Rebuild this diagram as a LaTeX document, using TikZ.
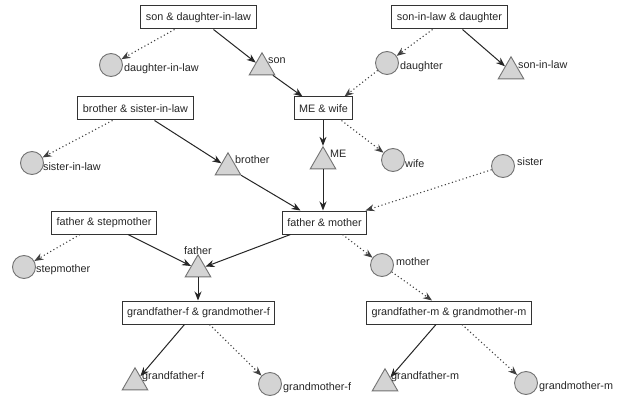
\documentclass[tikz,border=0pt]{standalone}
\usepackage{fontspec}
\setmainfont{Liberation Sans}
\usetikzlibrary{shapes.geometric,arrows.meta}
\begin{document}
\begin{tikzpicture}[x=1pt,y=-1pt,
 font=\fontsize{10.8}{12}\selectfont,
 box/.style={draw=black!80,line width=1pt,fill=white,minimum height=23pt,inner xsep=5pt,inner ysep=0pt,text=black!85},
 fem/.style={circle,draw=black!55,line width=0.9pt,fill=black!17,minimum size=23pt,inner sep=0pt},
 mal/.style={regular polygon,regular polygon sides=3,draw=black!55,line width=0.9pt,fill=black!17,minimum size=29.5pt,inner sep=0pt},
 lab/.style={anchor=west,inner sep=0pt,text=black!85},
 sol/.style={draw=black!85,line width=1pt,-{Stealth[length=9pt,width=7pt]}},
 dot/.style={draw=black!75,line width=1.1pt,dash pattern=on 1.1pt off 2.6pt,-{Stealth[length=9pt,width=7pt]}},
]
\fill[white] (0,0) rectangle (620,398);
\useasboundingbox (0,0) rectangle (620,398);
% boxes
\node[box] (sdl) at (198.5,17.5) {son \& daughter-in-law};
\node[box] (sild) at (449.5,17.5) {son-in-law \& daughter};
\node[box] (bsil) at (135.5,108.5) {brother \& sister-in-law};
\node[box] (mew) at (323.5,108.5) {ME \& wife};
\node[box] (fsm) at (104,222.5) {father \& stepmother};
\node[box] (fm) at (324.5,222.5) {father \& mother};
\node[box] (gff) at (198.5,312.5) {grandfather-f \& grandmother-f};
\node[box] (gfm) at (449,312.5) {grandfather-m \& grandmother-m};
% females
\node[fem] (dil) at (111,65) {};
\node[fem] (dau) at (387,63) {};
\node[fem] (sil) at (32,163) {};
\node[fem] (wife) at (393,160) {};
\node[fem] (sis) at (503,166) {};
\node[fem] (stm) at (24,267) {};
\node[fem] (mot) at (382,265) {};
\node[fem] (gmf) at (270,384) {};
\node[fem] (gmm) at (526,383) {};
% males
\node[mal] (son) at (262,67.5) {};
\node[mal] (sonil) at (511,71.5) {};
\node[mal] (bro) at (228,167.5) {};
\node[mal] (me) at (323,161.5) {};
\node[mal] (fat) at (198,269.5) {};
\node[mal] (gpf) at (135,382.5) {};
\node[mal] (gpm) at (385,383.5) {};
% labels
\node[lab] (dil-l) at (124,69) {daughter-in-law};
\node[lab] (dau-l) at (400,67) {daughter};
\node[lab] (sil-l) at (43,167) {sister-in-law};
\node[lab] (wife-l) at (405,164) {wife};
\node[lab] (sis-l) at (517,162) {sister};
\node[lab] (stm-l) at (36,270) {stepmother};
\node[lab] (mot-l) at (396,262) {mother};
\node[lab] (gmf-l) at (283,388) {grandmother-f};
\node[lab] (gmm-l) at (539,387) {grandmother-m};
\node[lab] (son-l) at (268,61) {son};
\node[lab] (sonil-l) at (518,65) {son-in-law};
\node[lab] (bro-l) at (235,160) {brother};
\node[lab] (me-l) at (330,154) {ME};
\node[lab,anchor=center] (fat-l) at (198,251) {father};
\node[lab] (gpf-l) at (142,377) {grandfather-f};
\node[lab] (gpm-l) at (391,377) {grandfather-m};
% edges
\draw[dot] ([xshift=-24pt]sdl.south) -- (dil);
\draw[sol] ([xshift=15pt]sdl.south) -- (son);
\draw[sol] (son) -- ([xshift=-21pt]mew.north);
\draw[dot] ([xshift=-17pt]sild.south) -- (dau);
\draw[sol] ([xshift=13pt]sild.south) -- (sonil);
\draw[dot] (dau) -- ([xshift=21pt]mew.north);
\draw[dot] ([xshift=-23pt]bsil.south) -- (sil);
\draw[sol] ([xshift=19pt]bsil.south) -- (bro);
\draw[sol] (bro) -- ([xshift=-24pt]fm.north);
\draw[sol] (mew.south -| me) -- (me);
\draw[sol] (me) -- (me |- fm.north);
\draw[dot] ([xshift=18pt]mew.south) -- (wife);
\draw[dot] (sis) -- ([xshift=41pt]fm.north);
\draw[dot] ([xshift=-24pt]fsm.south) -- (stm);
\draw[sol] ([xshift=24pt]fsm.south) -- (fat);
\draw[sol] ([xshift=-34pt]fm.south) -- (fat);
\draw[dot] ([xshift=18pt]fm.south) -- (mot);
\draw[sol] (fat) -- (fat |- gff.north);
\draw[dot] (mot) -- ([xshift=-17pt]gfm.north);
\draw[sol] ([xshift=-14pt]gff.south) -- (gpf);
\draw[dot] ([xshift=11pt]gff.south) -- (gmf);
\draw[sol] ([xshift=-13pt]gfm.south) -- (gpm);
\draw[dot] ([xshift=13pt]gfm.south) -- (gmm);
\end{tikzpicture}
\end{document}
